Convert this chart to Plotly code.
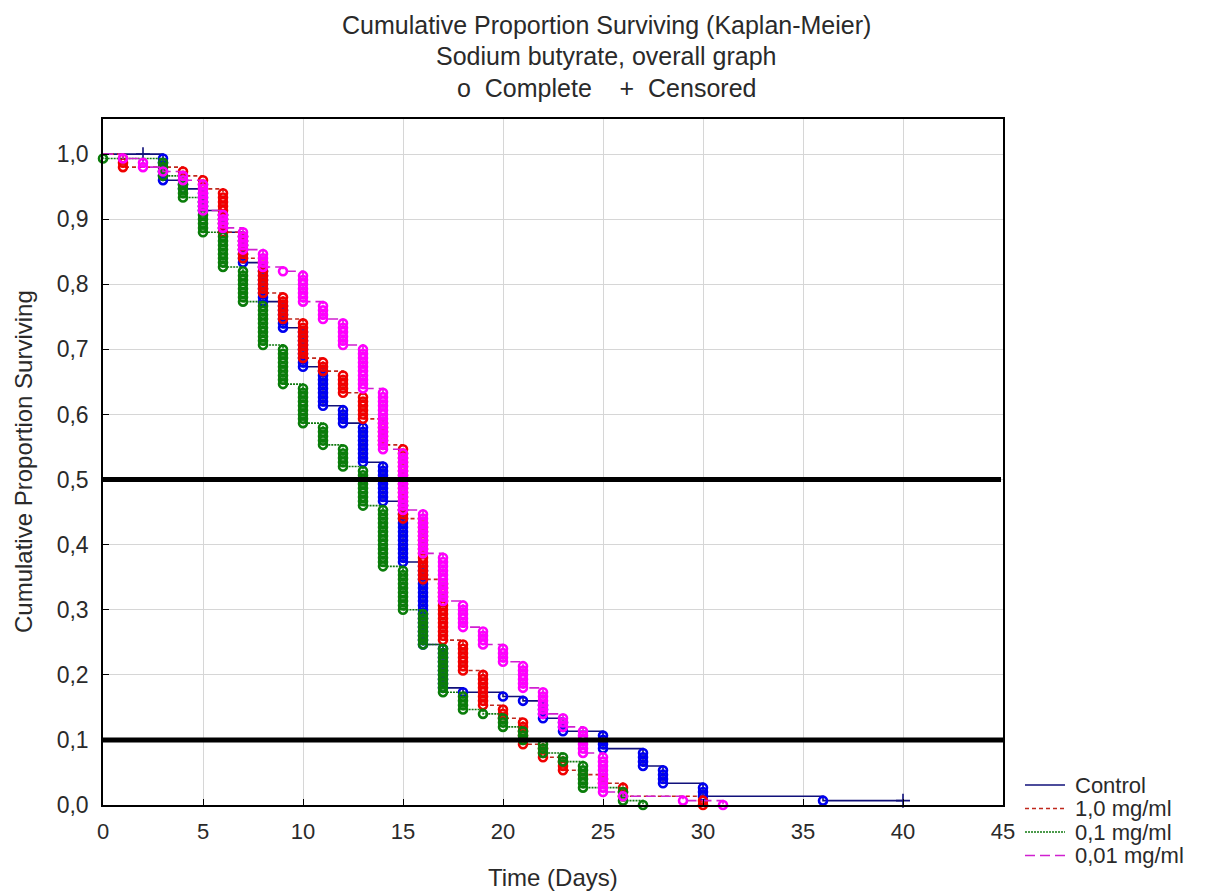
import plotly.graph_objects as go

# Kaplan-Meier survival of four treatment groups (sodium butyrate)
group_names = ["Control", "1,0 mg/ml", "0,1 mg/ml", "0,01 mg/ml"]

# Deaths per day for each group
control_days = [3, 4, 5, 6, 7, 8, 9, 10, 11, 12, 13, 14, 15, 16, 17, 18, 20, 21, 22, 23, 25, 27, 28, 30, 36]
control_deaths = [6, 2, 5, 5, 7, 9, 6, 9, 9, 4, 9, 9, 14, 19, 10, 1, 1, 1, 4, 3, 4, 4, 4, 3, 1]
control_censored = [2, 40]

high_days = [1, 4, 5, 6, 7, 8, 9, 10, 11, 12, 13, 14, 15, 16, 17, 18, 19, 20, 21, 22, 23, 24, 25, 26, 30]
high_deaths = [3, 2, 3, 10, 6, 8, 6, 9, 3, 5, 6, 6, 17, 14, 14, 7, 8, 3, 6, 3, 3, 1, 2, 3, 2]
high_censored = []

mid_days = [0, 3, 4, 5, 6, 7, 8, 9, 10, 11, 12, 13, 14, 15, 16, 17, 18, 19, 20, 21, 22, 23, 24, 26, 27]
mid_deaths = [1, 4, 5, 8, 8, 8, 10, 9, 9, 5, 5, 9, 14, 10, 8, 11, 4, 1, 3, 3, 3, 2, 6, 3, 1]
mid_censored = []

low_days = [1, 2, 3, 4, 5, 6, 7, 8, 9, 10, 11, 12, 13, 14, 15, 16, 17, 18, 19, 20, 21, 22, 23, 24, 25, 26, 29, 31]
low_deaths = [1, 2, 1, 2, 7, 4, 5, 4, 1, 7, 4, 6, 10, 14, 14, 10, 11, 6, 4, 4, 6, 6, 3, 6, 9, 1, 1, 1]
low_censored = []

reference_levels = [0.5, 0.1]

x_ticks = [0, 5, 10, 15, 20, 25, 30, 35, 40, 45]
y_ticks = [0.0, 0.1, 0.2, 0.3, 0.4, 0.5, 0.6, 0.7, 0.8, 0.9, 1.0]

x_title = "Time (Days)"
y_title = "Cumulative Proportion Surviving"

groups = [
    dict(name=group_names[0], days=control_days, deaths=control_deaths, cens=control_censored,
         line="#10107a", dash="solid", marker="#0000f0"),
    dict(name=group_names[1], days=high_days, deaths=high_deaths, cens=high_censored,
         line="#c0281c", dash="4px,3px", marker="#f00000"),
    dict(name=group_names[2], days=mid_days, deaths=mid_deaths, cens=mid_censored,
         line="#107a10", dash="2px,1px", marker="#0a7d0a"),
    dict(name=group_names[3], days=low_days, deaths=low_deaths, cens=low_censored,
         line="#d020d0", dash="10px,5px", marker="#ff00ff"),
]


def kaplan_meier(days, deaths, censored):
    """Product-limit estimate; returns step curve, per-death points and censor points."""
    n = sum(deaths) + len(censored)
    events = sorted(set(days) | set(censored))
    s = 1.0
    step_x, step_y = [0.0], [1.0]
    dx, dy, cx, cy = [], [], [], []
    for t in events:
        d = deaths[days.index(t)] if t in days else 0
        if d:
            for j in range(1, d + 1):
                dx.append(t)
                dy.append(s * (n - j) / n)
            s = s * (n - d) / n
            step_x.append(t)
            step_y.append(s)
        c = censored.count(t)
        if c:
            cx += [t] * c
            cy += [s] * c
            if step_x[-1] != t:
                step_x.append(t)
                step_y.append(s)
        n -= d + c
    return step_x, step_y, dx, dy, cx, cy


fig = go.Figure()

for g in groups:
    sx, sy, dx, dy, cx, cy = kaplan_meier(g["days"], g["deaths"], g["cens"])
    fig.add_trace(go.Scatter(
        x=sx, y=sy, mode="lines", name=g["name"], line_shape="hv", showlegend=False,
        line=dict(color=g["line"], width=1.6, dash=g["dash"]), cliponaxis=False,
    ))
    fig.add_trace(go.Scatter(
        x=dx, y=dy, mode="markers", showlegend=False, hoverinfo="skip",
        marker=dict(symbol="circle-open", size=8, color=g["marker"],
                    line=dict(color=g["marker"], width=2.6)),
        cliponaxis=False,
    ))
    if cx:
        fig.add_trace(go.Scatter(
            x=cx, y=cy, mode="markers", showlegend=False, hoverinfo="skip",
            marker=dict(symbol="cross-thin-open", size=10, color=g["line"],
                        line=dict(color=g["line"], width=1.6)),
            cliponaxis=False,
        ))

# Thick reference lines at the median and 10% survival levels
for lvl, x_end in zip(reference_levels, [44.9, 45.25]):
    fig.add_trace(go.Scatter(
        x=[0, x_end], y=[lvl, lvl], mode="lines", showlegend=False, hoverinfo="skip",
        line=dict(color="black", width=5), cliponaxis=False,
    ))

font_family = "Liberation Sans, Arial, sans-serif"
text_color = "#2a2a2a"

# Plot area in pixels, used to place the legend and titles in paper coordinates
PLOT_L, PLOT_R, PLOT_T, PLOT_B = 103, 1003, 119, 805


def px_to_paper(px, py):
    return (px - PLOT_L) / (PLOT_R - PLOT_L), (PLOT_B - py) / (PLOT_B - PLOT_T)


title_lines = [
    "Cumulative Proportion Surviving (Kaplan-Meier)",
    "Sodium butyrate, overall graph",
    "o  Complete    +  Censored",
]
for line, py in zip(title_lines, [25, 56, 88]):
    tx, ty = px_to_paper(606, py)
    fig.add_annotation(
        text=line, xref="paper", yref="paper", x=tx, y=ty,
        xanchor="center", yanchor="middle", showarrow=False,
        font=dict(family=font_family, size=25, color=text_color),
    )

# Axis titles
ax, ay = px_to_paper(553, 877)
fig.add_annotation(text=x_title, xref="paper", yref="paper", x=ax, y=ay,
                   xanchor="center", yanchor="middle", showarrow=False,
                   font=dict(family=font_family, size=24, color=text_color))
ax, ay = px_to_paper(23, 462)
fig.add_annotation(text=y_title, xref="paper", yref="paper", x=ax, y=ay, textangle=-90,
                   xanchor="center", yanchor="middle", showarrow=False,
                   font=dict(family=font_family, size=24, color=text_color))

# Legend: line sample plus label for each group
for g, py in zip(groups, [785, 808.5, 832, 855.5]):
    x0, y0 = px_to_paper(1025, py)
    x1, _ = px_to_paper(1065, py)
    tx, _ = px_to_paper(1073, py)
    fig.add_shape(type="line", xref="paper", yref="paper", x0=x0, x1=x1, y0=y0, y1=y0,
                  line=dict(color=g["line"], width=1.6, dash=g["dash"]))
    fig.add_annotation(
        text=g["name"], xref="paper", yref="paper", x=tx, y=y0,
        xanchor="left", yanchor="middle", showarrow=False,
        font=dict(family=font_family, size=22, color=text_color),
    )

tick_font = dict(family=font_family, size=22, color=text_color)

fig.update_layout(
    width=1208, height=892,
    margin=dict(l=PLOT_L, r=1208 - PLOT_R, t=PLOT_T, b=892 - PLOT_B),
    paper_bgcolor="white", plot_bgcolor="white",
    separators=", ",
    font=dict(family=font_family, size=21, color=text_color),
    showlegend=False,
    xaxis=dict(
        range=[0, 45], tickvals=x_ticks, ticktext=[str(v) for v in x_ticks],
        showgrid=True, gridcolor="#d6d6d6", gridwidth=1,
        showline=True, linecolor="black", linewidth=1.5, mirror=True,
        ticks="inside", ticklen=6, tickcolor="black", zeroline=False,
        tickfont=tick_font, ticklabelstandoff=6,
    ),
    yaxis=dict(
        range=[0, 1.054], tickvals=y_ticks, tickformat=".1f",
        showgrid=True, gridcolor="#d6d6d6", gridwidth=1,
        showline=True, linecolor="black", linewidth=1.5, mirror=True,
        ticks="inside", ticklen=6, tickcolor="black", zeroline=False,
        tickfont=dict(family=font_family, size=23, color=text_color), ticklabelstandoff=8,
    ),
)

fig.write_html("out.html")
